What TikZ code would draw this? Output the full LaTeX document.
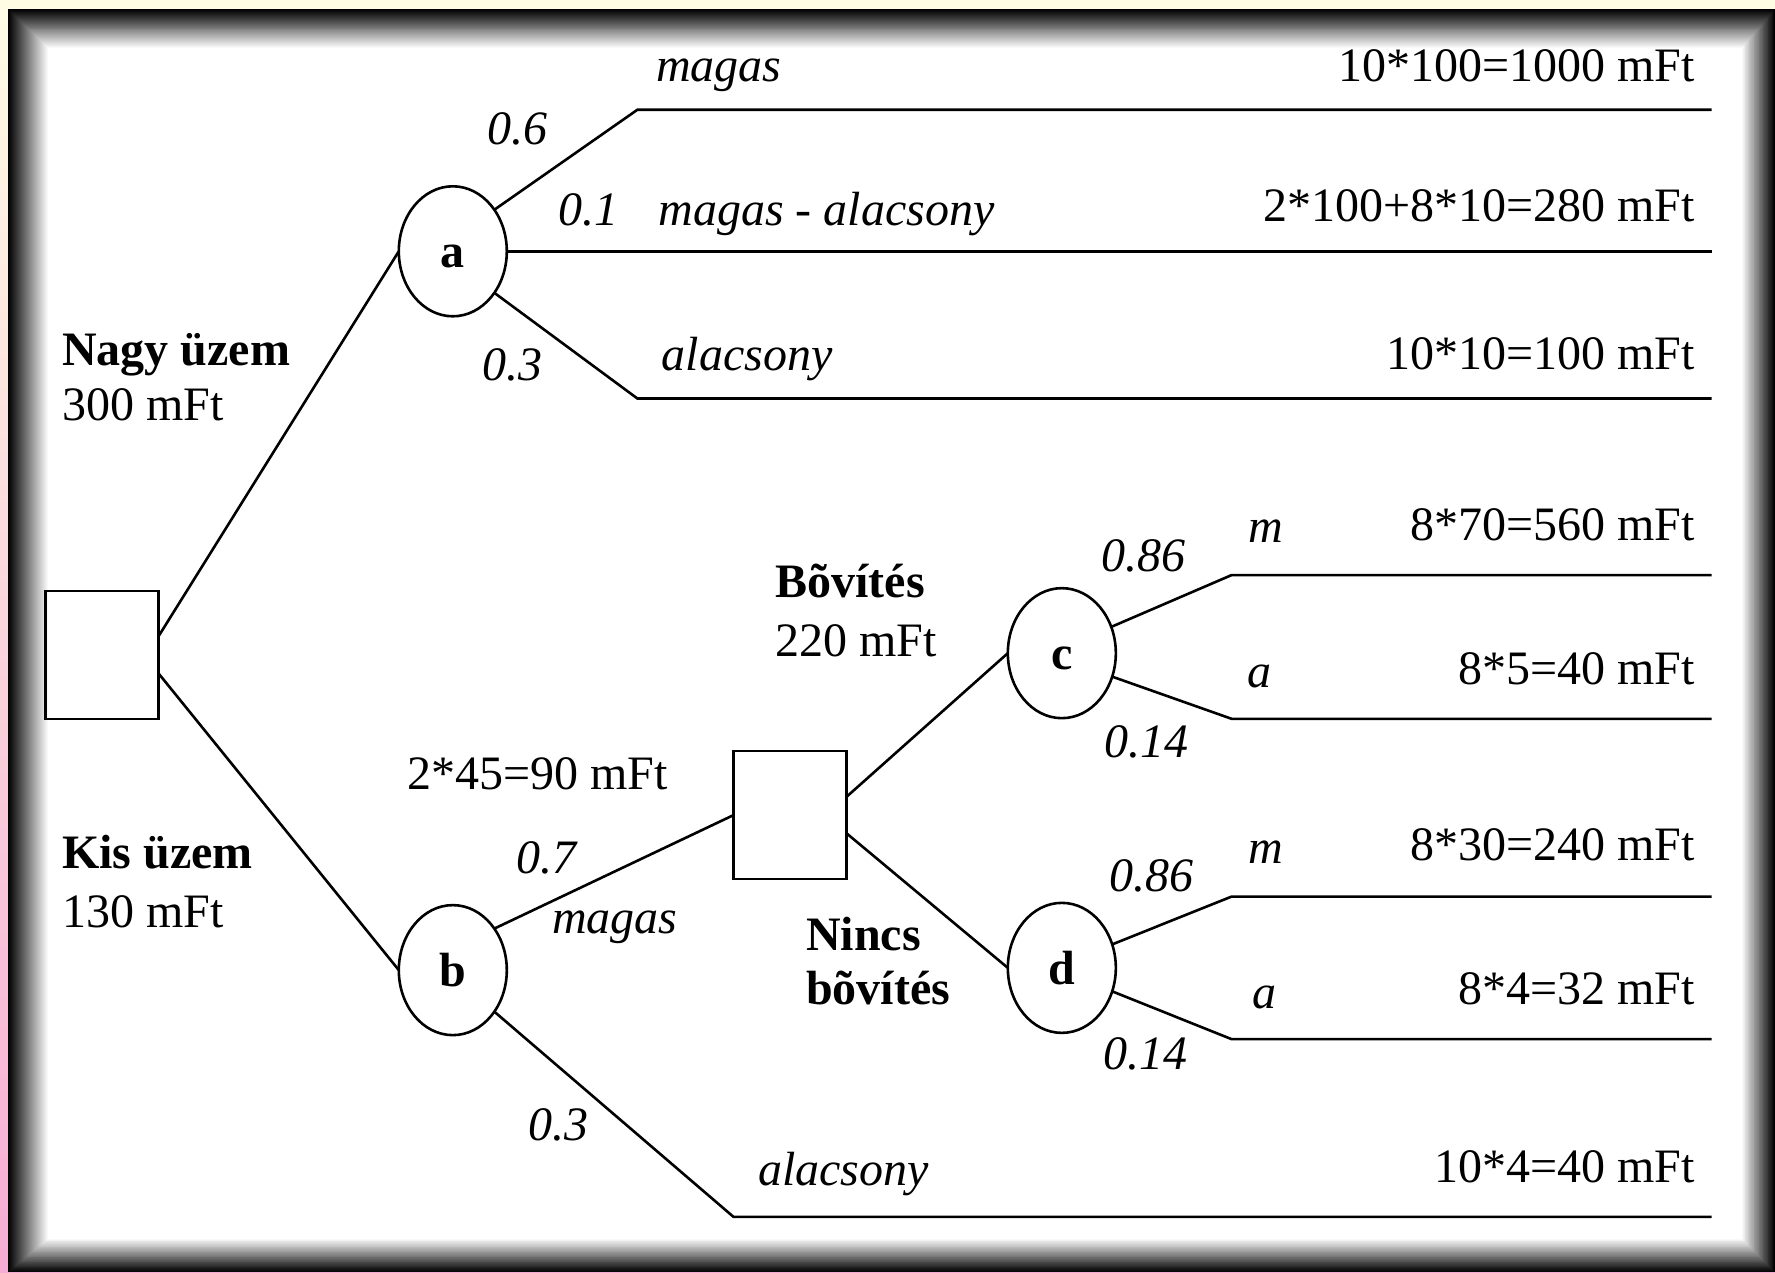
\documentclass[tikz,border=0pt]{standalone}
\usepackage{fontspec}
\setmainfont{Liberation Serif}
\usetikzlibrary{shapes.geometric}
\definecolor{cream}{RGB}{255,252,228}
\definecolor{pinkish}{RGB}{245,172,212}
\begin{document}
\begin{tikzpicture}[x=1.132pt,y=1.132pt,
  every node/.style={inner sep=0pt, outer sep=0pt, font=\fontsize{48}{55}\selectfont, text height=33pt, text depth=0pt},
  chance/.style={draw, ellipse, line width=2.6pt, minimum width=108pt, minimum height=130pt, font=\fontsize{48}{55}\selectfont\bfseries},
  decision/.style={draw, rectangle, line width=2.6pt, minimum width=113pt, minimum height=128pt},
  branch/.style={line width=2.6pt},
  prob/.style={font=\fontsize{48}{55}\selectfont\itshape},
  lab/.style={font=\fontsize{48}{55}\selectfont\itshape},
  pay/.style={anchor=east},
  head/.style={anchor=west, font=\fontsize{48}{55}\selectfont\bfseries},
  cost/.style={anchor=west}
]
\useasboundingbox (0,0) rectangle (1568,1124);
% frame
\shade[top color=cream, bottom color=pinkish] (0,0) rectangle (1568,1124);
\foreach \i in {0,...,40}{
  \pgfmathsetmacro{\t}{\i/40}
  \pgfmathsetmacro{\w}{100*\t}
  \fill[white!\w!black] (7.07+35.3*\t, 29.5*\t) rectangle (1568-29.1*\t, 1116-34.4*\t);
}
\fill[white] (42.4,29.5) rectangle (1538.9,1081.6);

% nodes
\node[decision] (root) at (90,545.5) {};
\node[chance] (a) at (400,902) {a};
\node[chance] (b) at (400,267) {b};
\node[decision] (s2) at (698,404) {};
\node[chance] (c) at (938,547) {c};
\node[chance] (d) at (938,269) {d};

% knee and end points
\coordinate (a1k) at (563,1027); \coordinate (a1e) at (1512,1027);
\coordinate (a3k) at (563,772);  \coordinate (a3e) at (1512,772);
\coordinate (b2k) at (648,49);   \coordinate (b2e) at (1512,49);
\coordinate (c1k) at (1088,616); \coordinate (c1e) at (1512,616);
\coordinate (c2k) at (1088,489); \coordinate (c2e) at (1512,489);
\coordinate (d1k) at (1088,332); \coordinate (d1e) at (1512,332);
\coordinate (d2k) at (1088,206); \coordinate (d2e) at (1512,206);

% connectors
\draw[branch] (root.18) -- (a.west);
\draw[branch] (root.-18) -- (b.west);
\draw[branch] (a.45) -- (a1k) -- (a1e);
\draw[branch] (a.east) -- (a.east -| a1e);
\draw[branch] (a.-45) -- (a3k) -- (a3e);
\draw[branch] (b.45) -- (s2.west);
\draw[branch] (b.-45) -- (b2k) -- (b2e);
\draw[branch] (s2.18) -- (c.west);
\draw[branch] (s2.-18) -- (d.west);
\draw[branch] (c.28) -- (c1k) -- (c1e);
\draw[branch] (c.-25) -- (c2k) -- (c2e);
\draw[branch] (d.25) -- (d1k) -- (d1e);
\draw[branch] (d.-25) -- (d2k) -- (d2e);

% upper subtree labels
\node[lab] (l1) at (635,1067) {magas};
\node[pay] (p1) at (1497,1067) {10*100=1000 mFt};
\node[prob] (q1) at (457,1011) {0.6};
\node[prob] (q2) at (520,939) {0.1};
\node[lab] (l2) at (730,939) {magas - alacsony};
\node[pay] (p2) at (1497,943) {2*100+8*10=280 mFt};
\node[prob] (q3) at (453,802) {0.3};
\node[lab] (l3) at (660,811) {alacsony};
\node[pay] (p3) at (1497,812) {10*10=100 mFt};

\node[head] (h1) at (55,816) {Nagy üzem};
\node[cost] (k1) at (55,767) {300 mFt};
\node[head] (h2) at (55,371) {Kis üzem};
\node[cost] (k2) at (55,319) {130 mFt};

% lower subtree labels
\node (v1) at (475,441) {2*45=90 mFt};
\node[prob] (q4) at (483,367) {0.7};
\node[lab] (l4) at (543,314) {magas};
\node[prob] (q5) at (493,131) {0.3};
\node[lab] (l5) at (745,91) {alacsony};
\node[pay] (p4) at (1497,94) {10*4=40 mFt};

\node[head] (h3) at (685,611) {Bõvítés};
\node[cost] (k3) at (685,559) {220 mFt};
\node[head] (h4) at (712,299) {Nincs};
\node[head] (h5) at (712,251) {bõvítés};

\node[prob] (q6) at (1010,634) {0.86};
\node[lab] (l6) at (1118,659) {m};
\node[pay] (p5) at (1497,661) {8*70=560 mFt};
\node[lab] (l7) at (1113,531) {a};
\node[pay] (p6) at (1497,534) {8*5=40 mFt};
\node[prob] (q7) at (1013,469) {0.14};

\node[prob] (q8) at (1017,351) {0.86};
\node[lab] (l8) at (1118,376) {m};
\node[pay] (p7) at (1497,378) {8*30=240 mFt};
\node[lab] (l9) at (1117,248) {a};
\node[pay] (p8) at (1497,251) {8*4=32 mFt};
\node[prob] (q9) at (1012,194) {0.14};
\end{tikzpicture}
\end{document}
